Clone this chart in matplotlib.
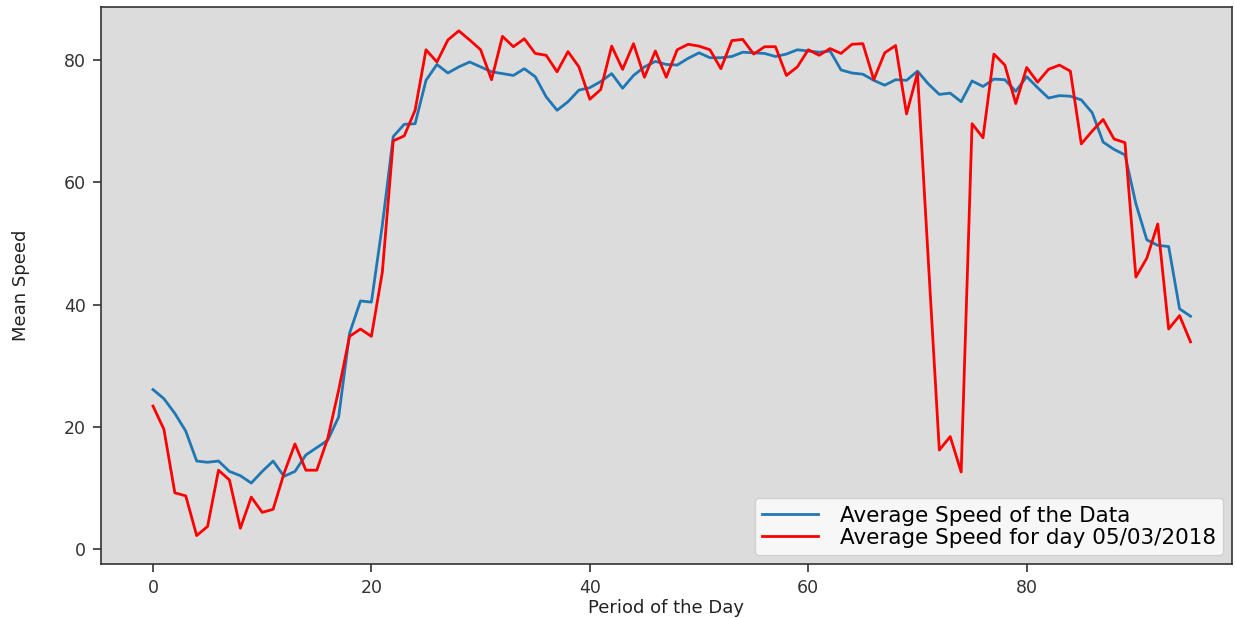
"""Mean speed per period of the day: overall average vs. one day (05/03/2018)."""

import matplotlib
matplotlib.use("Agg")
import matplotlib.pyplot as plt

# period index 0..95
periods = list(range(96))

avg_speed = [
    26.1, 24.6, 22.2, 19.3, 14.4, 14.2, 14.4, 12.7, 12.0, 10.8,
    12.7, 14.4, 11.9, 12.7, 15.4, 16.6, 17.8, 21.6, 35.3, 40.6,
    40.4, 53.0, 67.5, 69.5, 69.6, 76.7, 79.3, 77.9, 78.9, 79.7,
    78.9, 78.1, 77.8, 77.5, 78.6, 77.3, 74.0, 71.8, 73.2, 75.1,
    75.5, 76.5, 77.8, 75.4, 77.5, 78.9, 79.8, 79.3, 79.2, 80.3,
    81.2, 80.4, 80.4, 80.6, 81.3, 81.2, 81.1, 80.6, 81.0, 81.7,
    81.5, 81.3, 81.5, 78.4, 77.9, 77.7, 76.7, 75.9, 76.8, 76.7,
    78.2, 76.1, 74.4, 74.6, 73.2, 76.6, 75.7, 76.9, 76.8, 74.9,
    77.3, 75.5, 73.8, 74.2, 74.1, 73.5, 71.4, 66.6, 65.4, 64.5,
    56.5, 50.6, 49.7, 49.5, 39.3, 38.1,
]

day_speed = [
    23.4, 19.6, 9.2, 8.7, 2.2, 3.7, 12.9, 11.3, 3.4, 8.5,
    6.0, 6.5, 12.4, 17.2, 12.9, 12.9, 18.1, 26.0, 34.8, 36.0,
    34.8, 45.3, 66.8, 67.6, 71.8, 81.7, 79.7, 83.3, 84.8, 83.3,
    81.7, 76.8, 83.9, 82.2, 83.5, 81.1, 80.8, 78.1, 81.4, 78.9,
    73.6, 75.2, 82.3, 78.5, 82.7, 77.2, 81.5, 77.2, 81.7, 82.6,
    82.3, 81.7, 78.6, 83.2, 83.4, 81.0, 82.2, 82.2, 77.5, 78.9,
    81.7, 80.8, 81.9, 81.1, 82.6, 82.7, 76.8, 81.2, 82.4, 71.2,
    77.9, 47.0, 16.2, 18.4, 12.6, 69.6, 67.3, 81.0, 79.2, 72.9,
    78.8, 76.4, 78.5, 79.2, 78.2, 66.3, 68.4, 70.3, 67.1, 66.5,
    44.5, 47.6, 53.2, 36.0, 38.2, 33.9,
]

labels = ["Average Speed of the Data", "Average Speed for day 05/03/2018"]


def main() -> int:
    fig = plt.figure(figsize=(12.35, 6.18), dpi=100)
    ax = fig.add_axes([101 / 1235, 1 - 564 / 618, (1232 - 101) / 1235, (564 - 7) / 618])
    ax.set_facecolor("#dcdcdc")

    ax.plot(periods, avg_speed, color="#1f77b4", lw=2, label=labels[0])
    ax.plot(periods, day_speed, color="red", lw=2, label=labels[1])

    ax.set_xlim(-4.76, 98.8)
    ax.set_ylim(-2.45, 88.7)
    ax.set_xticks([0, 20, 40, 60, 80])
    ax.set_yticks([0, 20, 40, 60, 80])
    ax.tick_params(labelsize=12.5, length=6, width=1.2, colors="#333333",
                   pad=5)
    for s in ax.spines.values():
        s.set_linewidth(1.2)
        s.set_color("#333333")

    ax.set_xlabel("Period of the Day", fontsize=13, labelpad=1, color="#222222")
    ax.set_ylabel("Mean Speed", fontsize=13, labelpad=24, color="#222222")
    ax.legend(loc="lower right", fontsize=15.5, borderaxespad=0.4,
              handlelength=2.6, handletextpad=1.0, labelspacing=0.1,
              borderpad=0.35)

    fig.savefig("out.png", dpi=100)
    plt.close(fig)
    return 0


if __name__ == "__main__":
    raise SystemExit(main())
